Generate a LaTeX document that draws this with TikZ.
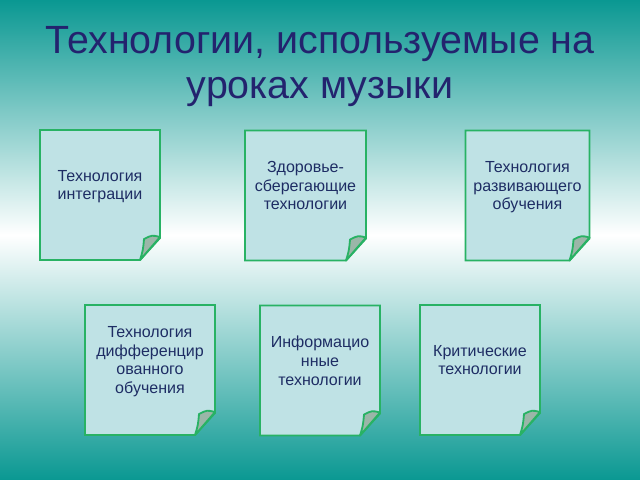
\documentclass[tikz,border=0pt]{standalone}
\usepackage{fontspec}
\setmainfont{Liberation Sans}
\usetikzlibrary{positioning}

\definecolor{bgteal}{RGB}{10,152,146}
\definecolor{notefill}{RGB}{191,226,229}
\definecolor{notegreen}{RGB}{40,178,100}
\definecolor{flapfill}{RGB}{155,182,168}
\definecolor{titleblue}{RGB}{35,35,110}
\definecolor{textblue}{RGB}{30,45,100}

\pgfdeclarelayer{bg}
\pgfsetlayers{bg,main}

\begin{document}
\begin{tikzpicture}[x=0.025cm, y=-0.025cm,
    note/.style = {minimum width=3cm, minimum height=3.25cm, inner sep=0pt, outer sep=0pt,
                   align=center, text=textblue, text depth=14pt,
                   font=\fontsize{11.4}{13.2}\selectfont},
    frame/.style = {draw=notegreen, fill=notefill, line width=1.3pt},
    flap/.style = {draw=notegreen, fill=flapfill, line width=1.3pt, line join=round}]
      \useasboundingbox (0,0) rectangle (640,480);
      \begin{pgfonlayer}{bg}
        \fill[top color=bgteal, bottom color=white] (0,0) rectangle (640,235);
        \fill[top color=white, bottom color=bgteal] (0,235) rectangle (640,480);
      \end{pgfonlayer}

      \node[font=\fontsize{28}{32}\selectfont, text=titleblue, align=center] (title) at (320,67)
           {Технологии, используемые на\\уроках музыки};

      \node[note]                      (integr) at (100,195)   {Технология\\интеграции};
      \node[note, minimum width=3.025cm] (health) at (305.5,195.5) {Здоровье-\\сберегающие\\технологии};
      \node[note, minimum width=3.1cm]   (devel)  at (527.5,195.5) {Технология\\развивающего\\обучения};
      \node[note, minimum width=3.25cm]  (diff)   at (150,370)   {Технология\\дифференцир\\ованного\\обучения};
      \node[note]                      (inform) at (320,370.5) {Информацио\\нные\\технологии};
      \node[note]                      (crit)   at (480,370)   {Критические\\технологии};

      \begin{pgfonlayer}{bg}
        \foreach \n in {integr,health,devel,diff,inform,crit}
          \draw[frame] (\n.north west) -- (\n.north east) -- ([shift={(0,-22)}]\n.south east)
            -- ([shift={(-20,0)}]\n.south east) -- (\n.south west) -- cycle;
      \end{pgfonlayer}

      % folded corners
      \foreach \n in {integr,health,devel,diff,inform,crit}
        \draw[flap] ([shift={(0,-23)}]\n.south east)
          .. controls ([shift={(-8,-25)}]\n.south east) .. ([shift={(-16,-21)}]\n.south east)
          .. controls ([shift={(-17,-10)}]\n.south east) .. ([shift={(-20,0)}]\n.south east) -- cycle;
\end{tikzpicture}
\end{document}
